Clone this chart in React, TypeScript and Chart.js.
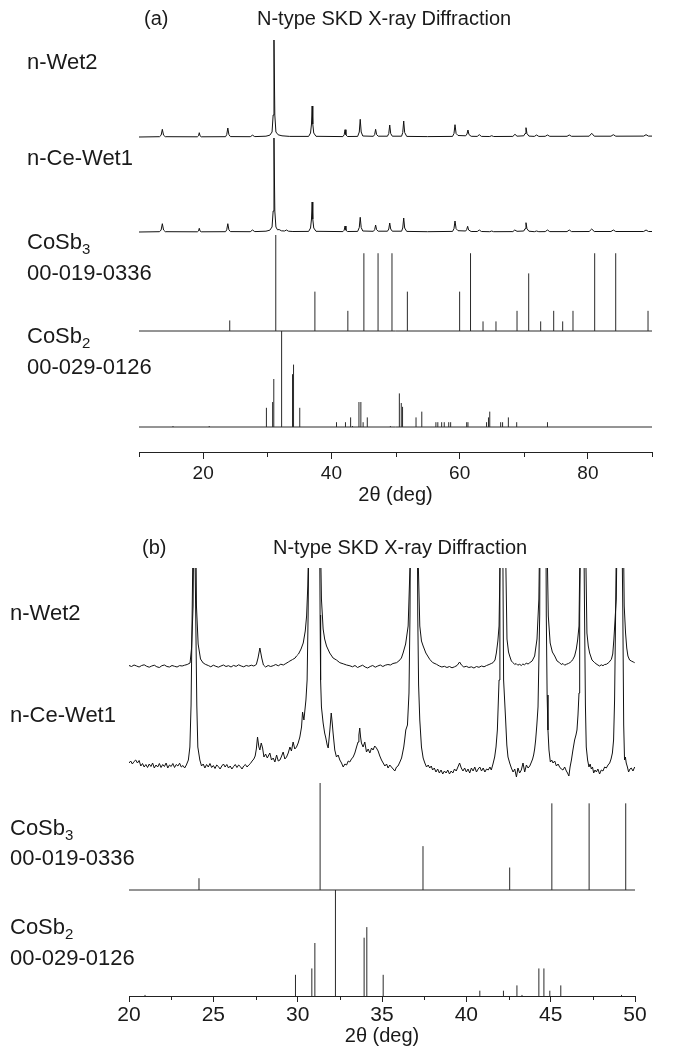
import React, { useEffect, useRef } from "react";
import { Chart, registerables } from "chart.js";

Chart.register(...registerables);

const FONT = '"Liberation Sans", Arial, Helvetica, sans-serif';

// ---------- Panel (a): full-range survey scans, [2theta, height above trace baseline] ----------
const wet2Survey: number[][] = [
  [10.0, 0.0],
  [13.2, 0.3], [13.45, 1.8], [13.64, 7.7], [13.83, 1.8], [14.1, 0.3],
  [19.1, 0.2], [19.28, 1.2], [19.4, 4.3], [19.52, 1.2], [19.7, 0.2],
  [23.5, 0.3], [23.68, 2.4], [23.85, 9.0], [24.02, 2.4], [24.25, 0.4],
  [27.35, 0.3], [27.7, 1.8], [28.05, 0.4],
  [29.8, 0.8], [30.4, 1.8], [30.75, 5], [30.92, 22], [31.05, 97], [31.18, 22], [31.35, 5], [31.7, 2.2], [32.3, 1.2], [33.5, 0.6],
  [36.45, 0.6], [36.75, 4], [36.9, 13], [37.0, 31], [37.1, 13], [37.25, 4], [37.6, 0.7],
  [41.8, 0.4], [42.0, 2.2], [42.13, 7.3], [42.27, 2.2], [42.5, 0.5],
  [44.1, 0.6], [44.35, 5], [44.5, 17.7], [44.65, 5], [44.9, 1.0],
  [46.55, 0.7], [46.75, 2.5], [46.9, 7.7], [47.05, 2.5], [47.3, 0.8],
  [48.75, 0.8], [48.95, 3.5], [49.1, 12], [49.25, 3.5], [49.5, 0.8],
  [50.95, 0.8], [51.13, 4.5], [51.28, 16], [51.43, 4.5], [51.75, 0.6],
  [55.0, 0.4],
  [58.9, 0.6], [59.12, 3.5], [59.28, 12.3], [59.45, 3.5], [59.75, 1.5], [60.95, 1.2], [61.15, 3], [61.3, 7], [61.45, 2.5], [61.8, 0.7],
  [62.75, 0.6], [63.07, 2.3], [63.4, 0.6],
  [64.7, 0.5], [65.0, 1.3], [65.3, 0.5],
  [68.3, 0.6], [68.63, 2.7], [68.95, 0.8], [70.0, 1.2], [70.2, 3.5], [70.35, 9.3], [70.5, 3.5], [70.8, 0.9],
  [71.65, 0.6], [72.0, 2], [72.35, 0.6],
  [73.35, 0.7], [73.7, 2], [74.05, 0.7],
  [76.75, 0.7], [77.1, 2], [77.45, 0.7],
  [80.2, 0.8], [80.6, 3.7], [81.0, 0.8],
  [83.6, 0.8], [83.97, 2.3], [84.35, 0.8],
  [88.7, 0.9], [89.07, 2.3], [89.45, 0.9], [90.0, 0.9],
];

const ceWet1Survey: number[][] = [
  [10.0, 0.0],
  [13.2, 0.3], [13.45, 2], [13.64, 8.3], [13.83, 2], [14.1, 0.3],
  [19.1, 0.2], [19.28, 1], [19.4, 3.7], [19.52, 1], [19.7, 0.2],
  [23.5, 0.3], [23.68, 2.2], [23.85, 8.3], [24.02, 2.2], [24.25, 0.4],
  [27.35, 0.3], [27.7, 2], [28.05, 0.4],
  [29.8, 0.8], [30.4, 1.8], [30.75, 5], [30.92, 21], [31.05, 94], [31.18, 21], [31.35, 5], [31.6, 2.2], [31.85, 2.5], [32.2, 1.2], [32.7, 1.0], [33.0, 2.0], [33.3, 0.8], [34.0, 0.5],
  [36.45, 0.6], [36.75, 4], [36.9, 13], [37.0, 30], [37.1, 13], [37.25, 4], [37.6, 0.7],
  [41.8, 0.4], [42.0, 1.8], [42.13, 6], [42.27, 1.8], [42.5, 0.5],
  [44.1, 0.6], [44.35, 4.5], [44.5, 14.7], [44.65, 4.5], [44.9, 1],
  [46.55, 0.7], [46.75, 2.3], [46.9, 7], [47.05, 2.3], [47.3, 0.8],
  [48.75, 0.8], [48.95, 3], [49.1, 9], [49.25, 3], [49.5, 0.8],
  [50.95, 0.8], [51.13, 4], [51.28, 14], [51.43, 4], [51.75, 0.6],
  [55.0, 0.3],
  [58.9, 0.6], [59.12, 3.3], [59.28, 11], [59.45, 3.3], [59.75, 1.3], [60.95, 1.0], [61.1, 2.5], [61.25, 5.7], [61.4, 2], [61.8, 0.5],
  [62.75, 0.5], [63.07, 2.0], [63.4, 0.5],
  [64.7, 0.3], [65.0, 1.0], [65.3, 0.3],
  [68.3, 0.4], [68.6, 2.0], [68.95, 0.7], [70.0, 1.0], [70.2, 3.3], [70.35, 9.3], [70.5, 3.3], [70.8, 0.8],
  [71.65, 0.3], [72.0, 1.0], [72.35, 0.3],
  [73.35, 0.4], [73.7, 2], [74.05, 0.4],
  [76.75, 0.4], [77.1, 2], [77.45, 0.4],
  [80.2, 0.5], [80.6, 3], [81.0, 0.5],
  [83.6, 0.5], [83.97, 2], [84.35, 0.5],
  [88.7, 0.5], [89.07, 2], [89.45, 0.5], [90.0, 0.5],
];

// ---------- Panel (b): magnified scans 20-50 deg ----------
const wet2Zoom: number[][] = [
  [20.0, 0.5], [20.15, -0.5], [20.3, 1.0], [20.45, 0.0], [20.6, -1.0], [20.75, 0.5], [20.9, 1.2], [21.05, -0.3], [21.2, -1.2], [21.35, 0.0], [21.5, 0.8], [21.65, -0.8], [21.8, -1.5], [21.95, 0.3], [22.1, 1.0], [22.25, -0.5], [22.4, -1.0], [22.55, 0.5], [22.7, -0.3], [22.85, -1.0], [23.0, 0.4], [23.15, 0.0], [23.3, 0.8], [23.45, 1.5],
  [23.62, 3], [23.71, 18], [23.8, 60], [23.9, 270], [24.0, 60], [24.1, 22], [24.24, 7], [24.4, 3], [24.55, 1.5],
  [24.7, 0.5], [24.85, -0.8], [25.0, 0.8], [25.15, -0.3], [25.3, -1.2], [25.45, 0.0], [25.6, 1.0], [25.75, -0.5], [25.9, 0.3], [26.05, -1.0], [26.2, 0.6], [26.35, -0.4], [26.5, 1.2], [26.65, 0.0], [26.8, -0.8], [26.95, 0.5], [27.1, -0.2], [27.25, 0.8], [27.4, 0.0],
  [27.55, 1.5], [27.65, 8], [27.76, 18], [27.87, 8], [27.97, 1.0],
  [28.1, -1.0], [28.25, 0.5], [28.4, -0.5], [28.55, 0.3], [28.7, 1.5], [28.85, 0.2], [29.0, 1.8], [29.15, 1.0], [29.3, 2.5], [29.45, 4.0], [29.54, 5.0], [29.7, 6.5], [29.85, 8.0], [29.93, 10], [30.05, 12], [30.2, 17], [30.33, 23], [30.45, 35], [30.53, 50], [30.6, 80], [30.66, 130], [30.8, 600], [31.0, 1400], [31.2, 600], [31.35, 130], [31.41, 67], [31.51, 37], [31.6, 27], [31.71, 20], [31.9, 13], [32.1, 8], [32.3, 6], [32.5, 3.3], [32.7, 2.2], [32.9, 1.0], [33.1, 0.2],
  [33.25, -0.8], [33.4, 0.5], [33.55, -1.5], [33.7, -0.3], [33.85, 0.8], [34.0, -1.0], [34.15, -2.0], [34.3, -0.5], [34.45, 0.5], [34.6, -1.2], [34.75, 0.0], [34.9, 1.0], [35.05, -0.5], [35.2, 0.8], [35.35, 1.5], [35.5, 1.0], [35.65, 2.5], [35.86, 3.3], [36.0, 5.0], [36.15, 8.0], [36.25, 13], [36.4, 22], [36.55, 40], [36.68, 110], [36.9, 500], [37.14, 110], [37.24, 40], [37.34, 25], [37.44, 20], [37.6, 13], [37.83, 6.7], [38.0, 3.5], [38.23, 1.7], [38.4, 0.0], [38.55, -1.0], [38.7, -0.3], [38.85, -1.5], [39.0, -0.5], [39.15, -1.8], [39.3, -0.8], [39.45, 0.5], [39.6, 4.0], [39.72, 0.8], [39.85, -1.0], [40.0, -0.3], [40.15, -1.5], [40.3, -0.8], [40.45, -2.0], [40.6, -0.5], [40.75, -1.3], [40.9, 0.0], [41.05, -0.8], [41.2, 0.5], [41.35, 1.5], [41.48, 2.5], [41.58, 3.3], [41.7, 6.0], [41.78, 13], [41.87, 25], [41.94, 40], [42.04, 150], [42.17, 350], [42.3, 150], [42.41, 27], [42.5, 14], [42.57, 10], [42.67, 5], [42.77, 3.3], [42.87, 1.5], [42.95, 2.5], [43.05, 0.8], [43.16, 1.7], [43.26, 0.5], [43.35, 2.0], [43.45, 1.2], [43.55, 2.8], [43.66, 2.0], [43.76, 3.3], [43.9, 5.0], [44.05, 10], [44.19, 27], [44.3, 67], [44.36, 150], [44.55, 700], [44.76, 150], [44.86, 50], [44.97, 23], [45.1, 14], [45.24, 10], [45.38, 5], [45.53, 3.3], [45.63, 1.5], [45.73, 2.5], [45.83, 0.8], [45.93, 1.7], [46.05, 2.5], [46.15, 3.5], [46.25, 5.0], [46.32, 6.7], [46.42, 10], [46.52, 17], [46.6, 26], [46.68, 40], [46.76, 150], [46.9, 350], [47.05, 150], [47.15, 33], [47.23, 20], [47.31, 13], [47.45, 6], [47.61, 3.3], [47.75, 1.5], [47.9, 0.0], [48.0, 1.2], [48.1, 0.3], [48.2, 1.5], [48.3, 1.7], [48.45, 3.5], [48.6, 6.7], [48.68, 12], [48.75, 27], [48.89, 67], [48.95, 150], [49.13, 500], [49.3, 150], [49.36, 60], [49.44, 33], [49.51, 18], [49.58, 10], [49.68, 6], [49.78, 5], [49.9, 4], [49.98, 3.3],
];

const ceWet1Zoom: number[][] = [
  [20.0, 2], [20.1, 4], [20.2, 1], [20.3, 3.5], [20.4, 5], [20.5, 2], [20.6, 4.5], [20.7, -1], [20.8, 1.5], [20.9, -2], [21.0, 0.5], [21.1, -2.5], [21.2, 1], [21.3, -1.5], [21.4, 2], [21.5, -3], [21.6, 0], [21.7, -2], [21.8, 1.5], [21.9, -2.5], [22.0, 0.5], [22.1, -1.5], [22.2, 2], [22.3, -3], [22.4, 0], [22.5, -1.5], [22.6, 1.5], [22.7, -2.5], [22.8, 0.5], [22.9, -1], [23.0, 1.8], [23.1, -2], [23.2, -0.5], [23.3, -3], [23.4, 0],
  [23.52, 5], [23.61, 18], [23.68, 60], [23.85, 300], [24.02, 60], [24.08, 18], [24.2, 5], [24.3, -1],
  [24.4, 1], [24.5, -3], [24.6, 0.5], [24.7, -2], [24.8, 1.5], [24.9, -2.5], [25.0, -0.5], [25.1, -3.5], [25.2, 0], [25.3, -1.5], [25.4, -4], [25.5, -1], [25.6, 1], [25.7, -2], [25.8, 0.5], [25.9, -3], [26.0, -1], [26.1, -4], [26.2, -1.5], [26.3, 0.5], [26.4, -2.5], [26.5, 0], [26.6, -1.5], [26.7, -4], [26.8, -1], [26.9, 0.5], [27.0, -2], [27.1, 0], [27.2, 1.5], [27.3, 4], [27.4, 6],
  [27.48, 9], [27.55, 16], [27.62, 28], [27.7, 18], [27.76, 15], [27.84, 22], [27.92, 17], [28.0, 8], [28.1, 11], [28.2, 7], [28.35, 12], [28.45, 5], [28.55, 7], [28.65, 3], [28.75, 10], [28.85, 4], [28.95, 5], [29.05, 9], [29.14, 13], [29.24, 6], [29.34, 8], [29.44, 12], [29.54, 18], [29.63, 14], [29.73, 23], [29.83, 16], [29.93, 18], [30.03, 22], [30.13, 28], [30.23, 38], [30.29, 53], [30.37, 45], [30.49, 65], [30.56, 85], [30.62, 150], [30.75, 400], [31.0, 1500], [31.25, 400], [31.33, 150], [31.36, 85],
  [31.41, 58], [31.51, 42], [31.6, 32], [31.67, 27], [31.75, 20], [31.81, 17], [31.91, 35], [31.99, 52], [32.05, 42], [32.1, 32], [32.2, 15], [32.3, 8], [32.4, 10], [32.5, 5], [32.6, 2], [32.7, -2], [32.8, 1], [32.9, 0], [33.0, 4], [33.09, 3], [33.19, 6], [33.29, 8], [33.39, 12], [33.49, 18], [33.58, 23], [33.63, 30], [33.68, 37], [33.73, 28], [33.78, 22], [33.88, 18], [33.98, 23], [34.08, 13], [34.18, 16], [34.28, 12], [34.38, 17], [34.47, 15], [34.57, 19], [34.67, 17], [34.77, 14], [34.87, 9], [34.97, 5], [35.07, 2], [35.17, -1], [35.27, 1], [35.36, -3], [35.46, 0], [35.56, -2], [35.66, -4], [35.76, -6], [35.86, -2], [35.95, -1], [36.06, 3], [36.16, 7], [36.22, 12], [36.29, 18], [36.35, 26], [36.41, 35], [36.51, 40], [36.6, 72], [36.66, 150], [36.9, 1000], [37.12, 150], [37.17, 80], [37.24, 45], [37.34, 18], [37.44, 7], [37.54, 2], [37.64, -2], [37.74, 0], [37.83, -3], [37.92, -1],
  [38.0, -5], [38.1, -3], [38.2, -7], [38.3, -4], [38.4, -8], [38.5, -5], [38.6, -9], [38.7, -6], [38.8, -8], [38.9, -5], [39.0, -9], [39.1, -6], [39.2, -8], [39.3, -4], [39.4, -6], [39.5, -2], [39.6, 2], [39.7, -3], [39.8, -6], [39.9, -3], [40.0, -7], [40.1, -4], [40.2, -8], [40.3, -3], [40.4, -6], [40.5, -2], [40.6, -7], [40.7, -4], [40.8, -2], [40.9, -6], [41.0, -3], [41.1, -7], [41.2, -4], [41.3, -5], [41.4, -2],
  [41.48, -5], [41.58, 1], [41.68, 8], [41.76, 18], [41.84, 35], [41.94, 85], [41.99, 200], [42.08, 400], [42.17, 200], [42.21, 85], [42.27, 65], [42.33, 45], [42.4, 20], [42.47, 8], [42.57, 2], [42.67, -3], [42.77, -7], [42.87, -4], [42.97, -12], [43.06, -3], [43.16, -8], [43.26, -5], [43.36, 2], [43.46, -7], [43.56, 0], [43.66, -3], [43.76, -1], [43.86, 3], [43.93, 6], [43.99, 10], [44.05, 16], [44.11, 25], [44.18, 40], [44.25, 58], [44.35, 150], [44.55, 1000], [44.74, 150], [44.79, 70], [44.84, 35], [44.9, 15], [44.98, 3], [45.06, 5], [45.14, 2], [45.24, 4], [45.34, -1], [45.44, 1], [45.53, -2], [45.63, -4], [45.73, -5], [45.83, -2], [45.93, -6], [46.0, -8], [46.08, -11], [46.15, -2], [46.23, 5], [46.32, 15], [46.42, 25], [46.5, 30], [46.56, 35], [46.62, 50], [46.68, 72], [46.72, 150], [46.88, 400], [47.01, 150], [47.06, 60], [47.11, 18], [47.19, 5], [47.27, -2], [47.34, 1], [47.41, -4], [47.48, -2], [47.55, -8], [47.63, -5], [47.71, -7], [47.8, -4], [47.9, -9], [48.0, -5], [48.1, -6], [48.2, -2], [48.3, -3], [48.4, 0], [48.5, 2], [48.58, 6], [48.66, 12], [48.73, 25], [48.79, 65], [48.85, 150], [49.06, 500], [49.28, 150], [49.33, 40], [49.38, 5], [49.43, 8], [49.48, 2], [49.55, -2], [49.62, -7], [49.7, -4], [49.78, -3], [49.88, -6], [49.98, -2],
];

// ---------- Reference patterns (relative intensity, 100 = strongest) ----------
const cosb3Pos = [24.15, 31.33, 37.43, 42.57, 45.07, 47.28, 49.45, 51.85, 60.0, 61.7, 63.65, 65.67, 68.95, 70.77, 72.64, 74.67, 76.07, 77.68, 81.06, 84.34, 89.38];
const cosb3Int = [11, 100, 41, 21, 81, 81, 81, 41, 41, 81, 10, 10, 21, 60, 10, 21, 10, 21, 81, 81, 21];

const cosb2Pos = [15.3, 20.95, 29.87, 30.84, 31.02, 32.24, 33.94, 34.1, 35.07, 40.8, 42.2, 43.0, 43.3, 44.3, 44.6, 44.95, 45.6, 49.2, 50.6, 50.9, 51.1, 53.2, 54.1, 56.3, 56.6, 57.2, 57.6, 58.3, 58.6, 61.1, 61.3, 64.2, 64.5, 64.7, 66.4, 66.7, 67.6, 68.9, 73.7];
const cosb2Int = [1, 1, 20, 26, 50, 100, 55, 65, 20, 5, 5, 10, 1, 26, 26, 5, 10, 1, 35, 25, 21, 10, 16, 5, 5, 5, 5, 5, 5, 5, 5, 5, 10, 16, 5, 5, 10, 5, 5];

// Axis ticks
const ticksA = { min: 10, max: 90, step: 10, labelEvery: 20 };
const ticksB = { min: 20, max: 50, step: 2.5, labelEvery: 5 };

const axisTitle = "2θ (deg)";
const chartTitle = "N-type SKD X-ray Diffraction";

type Pt = { x: number; y: number | null };

function traceData(pts: number[][], offset: number, scale: number): Pt[] {
  return pts.map(([x, y]) => ({ x, y: offset + y * scale }));
}

function stickData(pos: number[], ints: number[], base: number, scale: number, lo: number, hi: number): Pt[] {
  const out: Pt[] = [];
  pos.forEach((p, i) => {
    if (p < lo || p > hi) return;
    out.push({ x: p, y: base });
    out.push({ x: p, y: base + ints[i] * scale });
    out.push({ x: p, y: null });
  });
  return out;
}

function lineDs(data: Pt[], color: string, width = 1) {
  return {
    type: "line" as const,
    data,
    borderColor: color,
    borderWidth: width,
    pointRadius: 0,
    tension: 0,
    spanGaps: false,
    fill: false,
  };
}

const minorTickPlugin = {
  id: "minorTicks",
  afterDraw(chart: any, _args: any, opts: any) {
    if (!opts || !opts.values) return;
    const xs = chart.scales.x;
    const ctx = chart.ctx;
    const y0 = chart.chartArea.bottom;
    ctx.save();
    ctx.strokeStyle = "#222";
    ctx.lineWidth = 1;
    opts.values.forEach((v: number) => {
      const px = Math.round(xs.getPixelForValue(v)) + 0.5;
      ctx.beginPath();
      ctx.moveTo(px, y0);
      ctx.lineTo(px, y0 + opts.length);
      ctx.stroke();
    });
    ctx.restore();
  },
};

function buildOptions(p: {
  t: { min: number; max: number; step: number; labelEvery: number };
  ymax: number;
  pad: { top: number; left: number; right: number; bottom: number };
  axisHeight: number;
  tickFont: number;
  tickLength: number;
  tickPad: number;
  titlePadBottom: number;
}) {
  const minor: number[] = [];
  for (let v = p.t.min; v <= p.t.max + 1e-9; v += p.t.step) {
    const r = Math.round(v * 100) / 100;
    if (Math.abs(r / p.t.labelEvery - Math.round(r / p.t.labelEvery)) > 1e-6) minor.push(r);
  }
  const isMajor = (v: number) => Math.abs(v / p.t.labelEvery - Math.round(v / p.t.labelEvery)) < 1e-6;
  return {
    animation: false as const,
    responsive: false,
    events: [] as any[],
    layout: { padding: p.pad },
    plugins: {
      legend: { display: false },
      tooltip: { enabled: false },
      title: { display: false },
      minorTicks: { values: minor, length: p.tickLength - 2 },
    },
    scales: {
      x: {
        type: "linear" as const,
        min: p.t.min,
        max: p.t.max,
        afterFit: (scale: any) => {
          scale.height = p.axisHeight;
        },
        border: { display: true, color: "#222", width: 1 },
        grid: {
          display: true,
          drawOnChartArea: false,
          drawTicks: true,
          tickLength: p.tickLength,
          tickColor: (c: any) => (c.tick && isMajor(c.tick.value) ? "#222" : "rgba(0,0,0,0)"),
        },
        ticks: {
          stepSize: p.t.step,
          autoSkip: false,
          maxRotation: 0,
          padding: p.tickPad,
          color: "#1a1a1a",
          font: { family: FONT, size: p.tickFont },
          callback: (v: any) => (isMajor(Number(v)) ? String(v) : ""),
        },
        title: {
          display: true,
          text: axisTitle,
          color: "#1a1a1a",
          font: { family: FONT, size: 20 },
          padding: { top: 0, bottom: p.titlePadBottom },
        },
      },
      y: {
        type: "linear" as const,
        display: false,
        min: 0,
        max: p.ymax,
      },
    },
  };
}

function LabelBlock({ x, y, children, size = 22 }: { x: number; y: number; children: React.ReactNode; size?: number }) {
  return (
    <div
      style={{
        position: "absolute",
        left: x,
        top: y,
        fontFamily: FONT,
        fontSize: size,
        lineHeight: 1,
        color: "#1a1a1a",
        whiteSpace: "nowrap",
      }}
    >
      {children}
    </div>
  );
}

const Sub = ({ c }: { c: string }) => (
  <span style={{ fontSize: 15, position: "relative", top: 5 }}>{c}</span>
);

export default function App() {
  const refA = useRef<HTMLCanvasElement | null>(null);
  const refB = useRef<HTMLCanvasElement | null>(null);

  useEffect(() => {
    const black = "#111";
    const stick = "#2a2a2a";

    // Panel (a) offsets (y units = pixels above x axis)
    const aWet2 = 315, aCe = 220, aCo3 = 121, aCo2 = 25, aStick = 0.96;
    const chartA = new Chart(refA.current as HTMLCanvasElement, {
      type: "line",
      data: {
        datasets: [
          lineDs(traceData(wet2Survey, aWet2, 1), black),
          lineDs(traceData(ceWet1Survey, aCe, 1), black),
          lineDs([{ x: 10, y: aCo3 }, { x: 90, y: aCo3 }], stick),
          lineDs(stickData(cosb3Pos, cosb3Int, aCo3, aStick, 10, 90), stick),
          lineDs([{ x: 10, y: aCo2 }, { x: 90, y: aCo2 }], stick),
          lineDs(stickData(cosb2Pos, cosb2Int, aCo2, aStick, 10, 90), stick),
        ] as any,
      },
      options: buildOptions({
        t: ticksA,
        ymax: 417,
        pad: { top: 35, left: 139, right: 23, bottom: 1 },
        axisHeight: 57,
        tickFont: 19,
        tickLength: 7,
        tickPad: 3,
        titlePadBottom: 2,
      }) as any,
      plugins: [minorTickPlugin],
    });

    // Panel (b)
    const bWet2 = 330, bCe = 231, bCo3 = 106, bCo2 = 0;
    const chartB = new Chart(refB.current as HTMLCanvasElement, {
      type: "line",
      data: {
        datasets: [
          lineDs(traceData(wet2Zoom, bWet2, 1), black),
          lineDs(traceData(ceWet1Zoom, bCe, 1), black),
          lineDs([{ x: 20, y: bCo3 }, { x: 50, y: bCo3 }], stick),
          lineDs(stickData(cosb3Pos, cosb3Int, bCo3, 1.07, 20, 50), stick),
          lineDs(stickData(cosb2Pos, cosb2Int, bCo2, 1.06, 20, 50), stick),
        ] as any,
      },
      options: buildOptions({
        t: ticksB,
        ymax: 428,
        pad: { top: 58, left: 129, right: 40, bottom: 2 },
        axisHeight: 57,
        tickFont: 21,
        tickLength: 6,
        tickPad: 1,
        titlePadBottom: 5,
      }) as any,
      plugins: [minorTickPlugin],
    });

    return () => {
      chartA.destroy();
      chartB.destroy();
    };
  }, []);

  return (
    <div style={{ position: "absolute", left: 0, top: 0, width: 675, height: 1055, background: "#fff", overflow: "hidden" }}>
      <canvas ref={refA} width={675} height={510} style={{ position: "absolute", left: 0, top: 0 }} />
      <canvas ref={refB} width={675} height={545} style={{ position: "absolute", left: 0, top: 510 }} />

      {/* Panel (a) text */}
      <LabelBlock x={144} y={8} size={20}>(a)</LabelBlock>
      <LabelBlock x={257} y={8} size={20}>{chartTitle}</LabelBlock>
      <LabelBlock x={27} y={51}>n-Wet2</LabelBlock>
      <LabelBlock x={27} y={147}>n-Ce-Wet1</LabelBlock>
      <LabelBlock x={27} y={231}>CoSb<Sub c="3" /></LabelBlock>
      <LabelBlock x={27} y={262}>00-019-0336</LabelBlock>
      <LabelBlock x={27} y={325}>CoSb<Sub c="2" /></LabelBlock>
      <LabelBlock x={27} y={356}>00-029-0126</LabelBlock>

      {/* Panel (b) text */}
      <LabelBlock x={142} y={537} size={20}>(b)</LabelBlock>
      <LabelBlock x={273} y={537} size={20}>{chartTitle}</LabelBlock>
      <LabelBlock x={10} y={602}>n-Wet2</LabelBlock>
      <LabelBlock x={10} y={704}>n-Ce-Wet1</LabelBlock>
      <LabelBlock x={10} y={817}>CoSb<Sub c="3" /></LabelBlock>
      <LabelBlock x={10} y={847}>00-019-0336</LabelBlock>
      <LabelBlock x={10} y={916}>CoSb<Sub c="2" /></LabelBlock>
      <LabelBlock x={10} y={947}>00-029-0126</LabelBlock>
    </div>
  );
}
